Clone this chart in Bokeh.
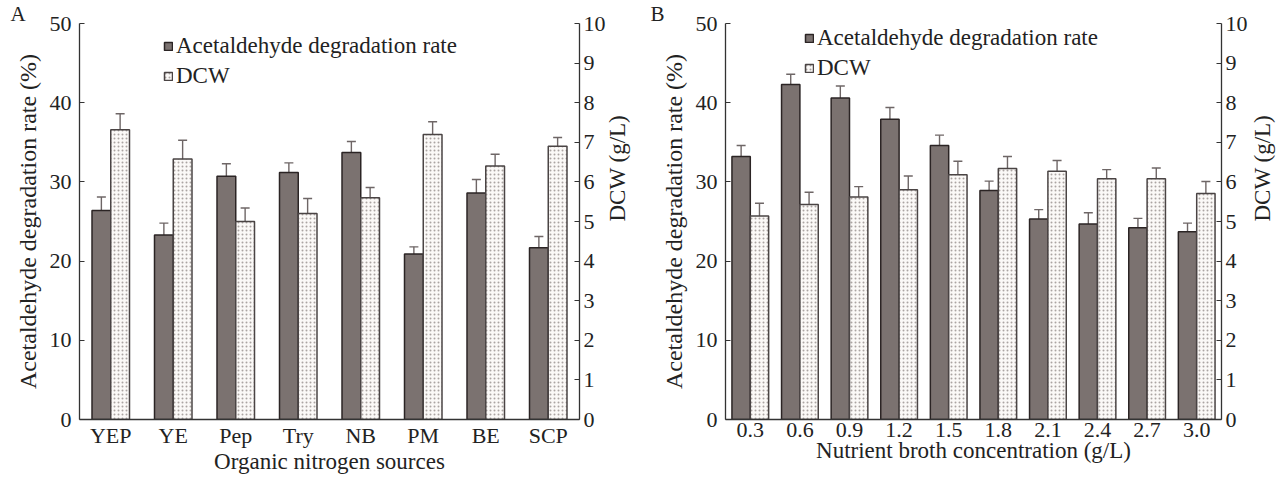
import math
from bokeh.plotting import figure
from bokeh.models import (ColumnDataSource, FactorRange, Range1d, LinearAxis, Whisker, TeeHead,
                          Legend, LegendItem, Title, FixedTicker)
from bokeh.transform import dodge
from bokeh.layouts import row
from bokeh.embed import file_html
from bokeh.resources import INLINE

# ---- data ----
cats_a = ["YEP", "YE", "Pep", "Try", "NB", "PM", "BE", "SCP"]
rate_a = [26.4, 23.3, 30.7, 31.2, 33.7, 20.9, 28.6, 21.7]
rate_a_err = [1.7, 1.5, 1.6, 1.2, 1.4, 0.9, 1.7, 1.4]
dcw_a = [7.32, 6.58, 5.0, 5.2, 5.6, 7.2, 6.4, 6.9]
dcw_a_err = [0.4, 0.47, 0.34, 0.38, 0.26, 0.32, 0.3, 0.22]

cats_b = ["0.3", "0.6", "0.9", "1.2", "1.5", "1.8", "2.1", "2.4", "2.7", "3.0"]
rate_b = [33.2, 42.3, 40.6, 37.9, 34.6, 28.9, 25.3, 24.7, 24.2, 23.7]
rate_b_err = [1.4, 1.3, 1.5, 1.5, 1.3, 1.2, 1.2, 1.4, 1.2, 1.1]
dcw_b = [5.14, 5.43, 5.62, 5.8, 6.18, 6.34, 6.27, 6.08, 6.08, 5.71]
dcw_b_err = [0.32, 0.31, 0.26, 0.35, 0.34, 0.3, 0.27, 0.23, 0.27, 0.3]

FONT = "Liberation Serif"
TXT = "#222222"
DARK = "#7b7270"
EDGE = "#2b2424"
ERR = "#6e6666"
FH = 396


def style_axis(ax, tick_in=5):
    ax.axis_line_color = "#333333"
    ax.axis_line_width = 1.3
    ax.major_tick_in = tick_in
    ax.major_tick_out = 0
    ax.major_tick_line_color = "#333333"
    ax.major_tick_line_width = 1.2
    ax.minor_tick_line_color = None
    ax.major_label_text_font = FONT
    ax.major_label_text_font_size = "22px"
    ax.major_label_text_color = TXT
    ax.axis_label_text_font = FONT
    ax.axis_label_text_font_size = "23px"
    ax.axis_label_text_font_style = "normal"
    ax.axis_label_text_color = TXT


def panel(cats, rate, rate_err, dcw, dcw_err, fw, bl, br, bt, bw, letter, letter_x, xlabel,
          leg_x, leg_y, r_standoff):
    src = ColumnDataSource(dict(
        cat=cats, rate=rate, dcw=dcw,
        r_up=[v + e for v, e in zip(rate, rate_err)], r_lo=[v - e for v, e in zip(rate, rate_err)],
        d_up=[v + e for v, e in zip(dcw, dcw_err)], d_lo=[v - e for v, e in zip(dcw, dcw_err)],
    ))
    p = figure(x_range=FactorRange(factors=cats, range_padding=0), y_range=Range1d(0, 50),
               frame_width=fw, frame_height=FH, output_backend="svg", toolbar_location=None,
               min_border_left=bl, min_border_right=br, min_border_top=bt,
               min_border_bottom=54)
    p.extra_y_ranges = {"dcw": Range1d(0, 10)}
    p.outline_line_color = None
    p.xgrid.grid_line_color = None
    p.ygrid.grid_line_color = None
    p.background_fill_color = "white"

    r1 = p.vbar(x=dodge("cat", -bw / 2, range=p.x_range), top="rate", width=bw, source=src,
                fill_color=DARK, line_color=EDGE, line_width=1.5)
    r2 = p.vbar(x=dodge("cat", bw / 2, range=p.x_range), top="dcw", width=bw, source=src,
                y_range_name="dcw", fill_color="#fbf9f7", line_color="#4a4444", line_width=1.5,
                hatch_pattern="dot", hatch_color="#aaa4a2", hatch_scale=4, hatch_weight=1)

    w1 = Whisker(base=dodge("cat", -bw / 2, range=p.x_range), upper="r_up", lower="r_lo", source=src,
                 line_color=ERR, line_width=1.4,
                 upper_head=TeeHead(size=9, line_color=ERR, line_width=1.4),
                 lower_head=TeeHead(size=9, line_color=ERR, line_width=1.4))
    w2 = Whisker(base=dodge("cat", bw / 2, range=p.x_range), upper="d_up", lower="d_lo", source=src,
                 y_range_name="dcw", line_color=ERR, line_width=1.4,
                 upper_head=TeeHead(size=9, line_color=ERR, line_width=1.4),
                 lower_head=TeeHead(size=9, line_color=ERR, line_width=1.4))
    p.add_layout(w1)
    p.add_layout(w2)

    # axes
    style_axis(p.yaxis[0])
    p.yaxis[0].ticker = FixedTicker(ticks=[0, 10, 20, 30, 40, 50])
    p.yaxis[0].axis_label = "Acetaldehyde degradation rate (%)"
    p.yaxis[0].axis_label_text_font_size = "24px"
    p.yaxis[0].major_label_standoff = 8
    p.yaxis[0].axis_label_standoff = 6
    style_axis(p.xaxis[0], tick_in=0)
    p.xaxis[0].major_tick_line_color = None
    p.xaxis[0].axis_label = xlabel
    p.xaxis[0].major_label_standoff = 3
    p.xaxis[0].axis_label_standoff = -2

    ax2 = LinearAxis(y_range_name="dcw", ticker=FixedTicker(ticks=list(range(0, 11))),
                     axis_label="DCW (g/L)")
    style_axis(ax2)
    ax2.major_label_standoff = 4
    ax2.axis_label_standoff = r_standoff
    try:
        ax2.axis_label_orientation = math.pi / 2
    except Exception:
        pass
    p.add_layout(ax2, "right")

    leg = Legend(items=[LegendItem(label="Acetaldehyde degradation rate", renderers=[r1]),
                        LegendItem(label="DCW", renderers=[r2])],
                 location=(leg_x, leg_y), background_fill_alpha=0, border_line_alpha=0,
                 label_text_font=FONT, label_text_font_size="23px", label_text_color=TXT,
                 glyph_width=10, glyph_height=10, label_standoff=3, spacing=4, padding=0,
                 margin=0, label_height=26)
    p.add_layout(leg, "center")

    p.add_layout(Title(text=letter, align="left", offset=letter_x - bl, standoff=-4,
                       vertical_align="bottom", text_font=FONT, text_font_size="21px",
                       text_font_style="normal", text_color=TXT), "above")
    return p


pa = panel(cats_a, rate_a, rate_a_err, dcw_a, dcw_a_err, 500, 79, 64, 23, 0.3, "A", 10,
           "Organic nitrogen sources", 84, 330, 9)
pb = panel(cats_b, rate_b, rate_b_err, dcw_b, dcw_b_err, 496, 80, 64, 21, 0.37, "B", 5,
           "Nutrient broth concentration (g/L)", 79, 338, 12)

layout = row(pa, pb, spacing=0)
open("out.html", "w").write(file_html(layout, INLINE))
